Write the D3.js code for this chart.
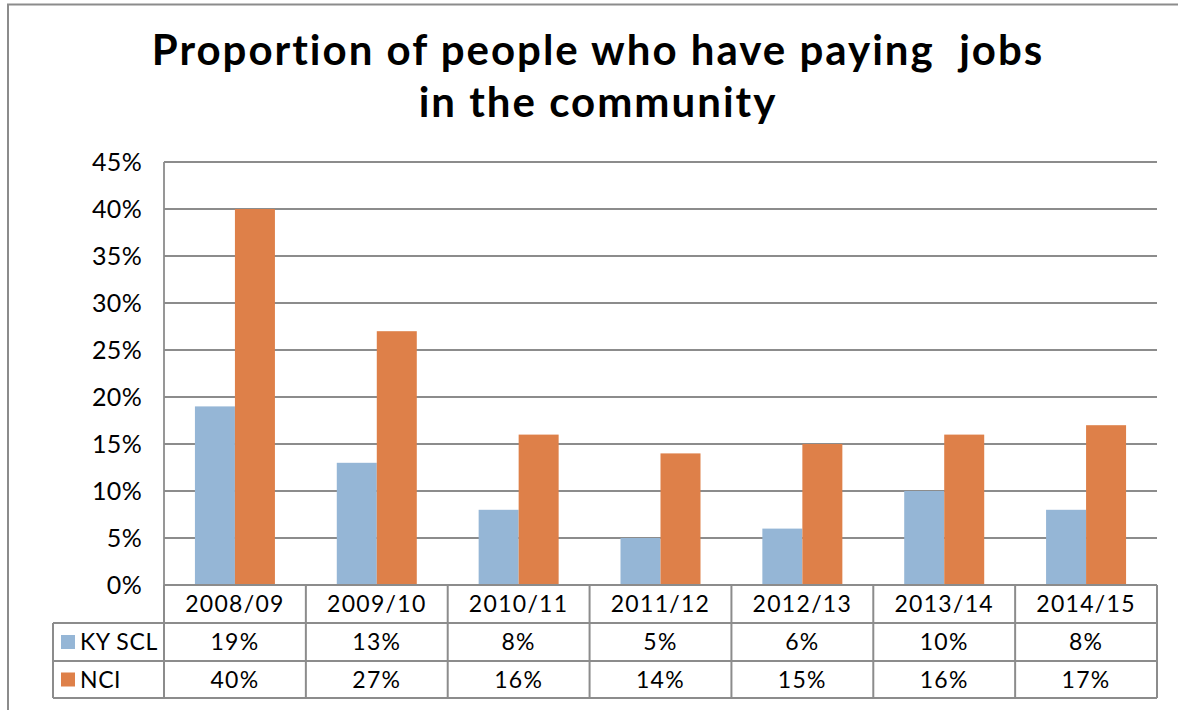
<!DOCTYPE html>
<html><head><meta charset="utf-8">
<script src="https://cdn.jsdelivr.net/npm/d3@7"></script>
<style>body{margin:0;background:#fff}svg{display:block}text{font-family:"Lato","Open Sans",sans-serif;fill:#000}</style>
</head><body>
<script>
const categories = ["2008/09","2009/10","2010/11","2011/12","2012/13","2013/14","2014/15"];
const seriesNames = ["KY SCL","NCI"];
const kyScl = [19,13,8,5,6,10,8];
const nci = [40,27,16,14,15,16,17];
const yTicks = [0,5,10,15,20,25,30,35,40,45];
const colors = ["#95B6D6","#DE8049"];
const titleLines = ["Proportion of people who have paying  jobs","in the community"];

(function(){
const W=1178,H=710;
const svg=d3.select("body").append("svg").attr("width",W).attr("height",H);
const gray="#8c8c8c";
svg.append("path").attr("d",`M8,${H} V4.5 H${W}`).attr("fill","none").attr("stroke",gray).attr("stroke-width",2);

const pL=164,pR=1157,pT=162,pB=585;
const x=d3.scaleBand().domain(categories).range([pL,pR]);
const y=d3.scaleLinear().domain([0,45]).range([pB,pT]);

svg.append("g").selectAll("line").data(yTicks).join("line")
 .attr("x1",pL).attr("x2",pR).attr("y1",d=>y(d)).attr("y2",d=>y(d))
 .attr("stroke",gray).attr("stroke-width",1.8);
svg.append("line").attr("x1",pL).attr("x2",pL).attr("y1",pT).attr("y2",pB).attr("stroke",gray).attr("stroke-width",1.8);

const yAxis=d3.axisLeft(y).tickValues(yTicks).tickFormat(d=>d+"%").tickSize(0).tickPadding(22);
const ga=svg.append("g").attr("transform",`translate(${pL},0)`).call(yAxis);
ga.select(".domain").remove();
ga.selectAll("text").attr("font-size",25).attr("font-family","Lato, sans-serif").attr("fill","#000").attr("letter-spacing",0.3);

const data=[kyScl,nci];
const bw=40;
data.forEach((vals,si)=>{
  svg.append("g").selectAll("rect").data(vals).join("rect")
   .attr("x",(d,i)=>x(categories[i])+x.bandwidth()/2-bw+si*bw)
   .attr("width",bw)
   .attr("y",d=>y(d)).attr("height",d=>pB-y(d))
   .attr("fill",colors[si]);
});

const rows=[585,623,661,698];
const tableLeft=53;
const tg=svg.append("g");
function ln(x1,y1,x2,y2){tg.append("line").attr("x1",x1).attr("y1",y1).attr("x2",x2).attr("y2",y2).attr("stroke",gray).attr("stroke-width",2);}
ln(pL,rows[0],pR,rows[0]);
ln(tableLeft,rows[1],pR,rows[1]);
ln(tableLeft,rows[2],pR,rows[2]);
ln(tableLeft,rows[3],pR,rows[3]);
ln(tableLeft,rows[1],tableLeft,rows[3]);
categories.forEach(c=>ln(x(c),rows[0],x(c),rows[3]));
ln(pR,rows[0],pR,rows[3]);

const fs=23, lsp=1.3;
tg.selectAll("text.cat").data(categories).join("text").attr("class","cat")
 .attr("x",d=>x(d)+x.bandwidth()/2).attr("y",(rows[0]+rows[1])/2+8)
 .attr("text-anchor","middle").attr("font-size",fs).attr("letter-spacing",lsp).text(d=>d);
data.forEach((vals,si)=>{
  const cy=(rows[si+1]+rows[si+2])/2;
  tg.selectAll("text.v"+si).data(vals).join("text").attr("class","v"+si)
   .attr("x",(d,i)=>x(categories[i])+x.bandwidth()/2).attr("y",cy+8)
   .attr("text-anchor","middle").attr("font-size",fs).attr("letter-spacing",lsp).text(d=>d+"%");
  tg.append("rect").attr("x",61).attr("y",cy-7).attr("width",14).attr("height",14).attr("fill",colors[si]);
  tg.append("text").attr("x",80).attr("y",cy+8).attr("font-size",fs).attr("letter-spacing",0.6).text(seriesNames[si]);
});

svg.append("g").selectAll("text").data(titleLines).join("text")
 .attr("x",598).attr("y",(d,i)=>65+i*52).attr("text-anchor","middle")
 .attr("font-size",42).attr("font-weight","bold").attr("letter-spacing",2)
 .style("white-space","pre").text(d=>d);
})();
</script>
</body></html>
